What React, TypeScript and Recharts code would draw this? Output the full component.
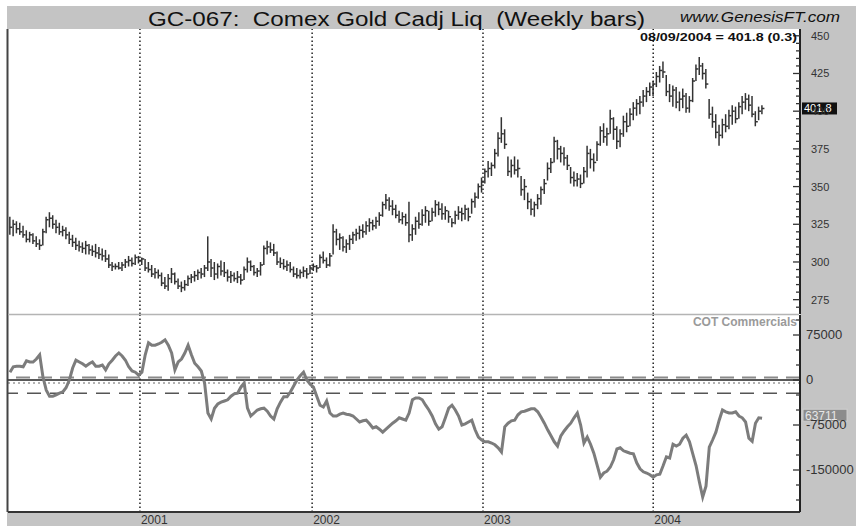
import { Bar, ComposedChart, Line, ReferenceLine, XAxis, YAxis } from 'recharts'

// weekly bars, Mar 2000 .. 08/09/2004
const highs = [
  330, 328, 327, 326, 324, 321, 320, 319, 317, 315,
  322, 330, 333, 331, 328, 326, 324, 323, 320, 318,
  316, 314, 313, 314, 312, 311, 312, 310, 309, 308,
  305, 300, 299, 300, 300, 302, 304, 303, 305, 304,
  303, 302, 300, 298, 296, 295, 293, 290, 292, 296,
  293, 289, 287, 288, 291, 292, 294, 295, 296, 298,
  317, 302, 300, 299, 301, 300, 295, 294, 293, 294,
  292, 297, 303, 301, 298, 296, 300, 311, 314, 313,
  312, 307, 303, 302, 301, 300, 297, 296, 295, 297,
  296, 298, 299, 298, 305, 307, 303, 306, 325, 322,
  319, 317, 315, 318, 320, 322, 324, 325, 327, 329,
  328, 330, 333, 340, 345, 343, 341, 338, 334, 333,
  332, 340, 325, 330, 333, 335, 337, 334, 336, 341,
  340, 339, 337, 334, 329, 334, 337, 336, 338, 336,
  342, 346, 352, 356, 362, 367, 366, 375, 386, 396,
  388, 370, 368, 370, 368, 357, 355, 346, 342, 340,
  345, 350, 355, 366, 369, 383, 381, 377, 376, 371,
  363, 360, 359, 358, 363, 377, 375, 372, 380, 390,
  392, 389, 401, 396, 390, 388, 397, 399, 402, 406,
  408, 410, 414, 416, 419, 420, 426, 430, 433, 424,
  418, 417, 416, 413, 415, 412, 410, 422, 431, 436,
  432, 428, 408, 403, 398, 391, 395, 398, 401, 404,
  403, 406, 410, 412, 411, 410, 400, 403, 404,
]

const lows = [
  318, 317, 319, 318, 316, 313, 313, 312, 310, 308,
  311, 319, 323, 322, 319, 318, 317, 315, 312, 310,
  308, 307, 306, 305, 305, 304, 303, 302, 301, 300,
  296, 294, 295, 295, 294, 296, 297, 297, 298, 299,
  298, 294, 293, 290, 289, 289, 284, 282, 281, 286,
  285, 282, 280, 281, 284, 286, 287, 288, 289, 290,
  294, 290, 288, 289, 291, 290, 287, 286, 287, 286,
  285, 288, 293, 294, 291, 290, 291, 298, 305, 306,
  304, 298, 296, 295, 294, 293, 290, 289, 289, 290,
  289, 292, 294, 293, 296, 299, 296, 297, 305, 311,
  308, 307, 306, 308, 312, 314, 315, 316, 318, 320,
  321, 322, 324, 330, 335, 334, 331, 329, 326, 325,
  324, 313, 314, 318, 322, 324, 326, 324, 327, 330,
  331, 328, 328, 326, 323, 325, 328, 327, 328, 327,
  332, 336, 342, 346, 352, 356, 357, 362, 370, 379,
  375, 357, 356, 358, 356, 344, 341, 335, 331, 330,
  335, 338, 345, 354, 359, 366, 368, 366, 364, 361,
  352, 350, 350, 349, 352, 356, 362, 360, 367, 377,
  379, 377, 385, 381, 375, 376, 383, 386, 390, 394,
  397, 398, 403, 406, 410, 410, 416, 419, 422, 410,
  406, 403, 402, 400, 402, 399, 399, 406, 420, 424,
  421, 415, 395, 389, 382, 377, 382, 386, 388, 391,
  392, 395, 398, 401, 400, 396, 390, 394, 398,
]

const closes = [
  323, 325, 322, 320, 318, 315, 318, 314, 312, 311,
  320, 328, 329, 325, 323, 320, 321, 318, 315, 313,
  311, 310, 309, 311, 308, 307, 306, 305, 304, 302,
  298, 297, 297, 296, 298, 300, 301, 299, 303, 301,
  302, 296, 295, 292, 293, 291, 286, 284, 289, 292,
  287, 284, 283, 285, 289, 290, 291, 293, 292, 296,
  300, 296, 292, 297, 294, 293, 290, 291, 289, 290,
  288, 295, 300, 297, 293, 294, 298, 309, 310, 308,
  306, 300, 299, 297, 298, 295, 292, 291, 293, 294,
  292, 296, 297, 296, 303, 301, 298, 304, 320, 315,
  316, 310, 312, 315, 318, 319, 321, 320, 324, 326,
  324, 327, 331, 338, 341, 337, 335, 331, 328, 330,
  326, 318, 322, 327, 325, 331, 334, 327, 333, 338,
  335, 332, 334, 330, 326, 331, 333, 332, 335, 330,
  340, 343, 350, 353, 360, 362, 364, 372, 382, 385,
  378, 360, 364, 361, 362, 348, 350, 340, 335, 338,
  342, 348, 352, 362, 366, 380, 375, 372, 369, 364,
  356, 354, 355, 352, 360, 372, 368, 366, 378, 387,
  383, 385, 395, 388, 380, 385, 393, 390, 398, 402,
  405, 406, 410, 413, 416, 418, 423, 427, 426, 413,
  410, 414, 406, 408, 410, 402, 407, 420, 428, 430,
  425, 418, 398, 393, 386, 384, 391, 390, 397, 400,
  395, 403, 406, 408, 404, 398, 393, 400, 401.8,
]

const cotCommercials = [
  13000, 22000, 23000, 23000, 22000, 32000, 30000, 30000, 35000, 42000,
  5000, -17000, -27000, -27000, -25000, -22000, -20000, -13000, 0, 20000,
  33000, 30000, 27000, 23000, 27000, 30000, 23000, 23000, 25000, 17000,
  27000, 33000, 40000, 45000, 40000, 33000, 22000, 15000, 13000, 8000,
  13000, 42000, 62000, 58000, 58000, 60000, 63000, 67000, 58000, 45000,
  17000, 30000, 35000, 45000, 58000, 42000, 28000, 22000, 15000, -5000,
  -55000, -65000, -47000, -40000, -37000, -35000, -33000, -27000, -23000, -22000,
  -12000, -5000, -47000, -60000, -55000, -50000, -48000, -47000, -52000, -60000,
  -65000, -48000, -37000, -28000, -28000, -20000, -10000, 0, 7000, 13000,
  0, -7000, -12000, -27000, -42000, -45000, -35000, -55000, -60000, -60000,
  -57000, -55000, -57000, -58000, -60000, -65000, -70000, -68000, -67000, -73000,
  -80000, -78000, -82000, -87000, -82000, -77000, -72000, -68000, -63000, -65000,
  -67000, -55000, -33000, -30000, -30000, -33000, -42000, -50000, -60000, -73000,
  -82000, -78000, -63000, -47000, -42000, -50000, -60000, -75000, -73000, -70000,
  -67000, -83000, -95000, -100000, -103000, -103000, -105000, -108000, -113000, -120000,
  -78000, -72000, -68000, -67000, -58000, -53000, -52000, -50000, -48000, -48000,
  -53000, -62000, -72000, -83000, -93000, -103000, -110000, -93000, -85000, -78000,
  -72000, -63000, -55000, -75000, -105000, -95000, -107000, -122000, -142000, -162000,
  -155000, -152000, -145000, -133000, -115000, -113000, -118000, -120000, -122000, -123000,
  -138000, -148000, -153000, -155000, -158000, -162000, -158000, -157000, -143000, -128000,
  -130000, -107000, -110000, -107000, -97000, -92000, -103000, -123000, -143000, -170000,
  -195000, -177000, -112000, -100000, -87000, -67000, -50000, -53000, -55000, -55000,
  -53000, -60000, -63000, -70000, -97000, -102000, -72000, -63000, -63711,
]

// year boundaries, in weeks from the first bar
const yearLabels = ['2001', '2002', '2003', '2004']
const yearWeeks = [39.4, 91.6, 143.4, 195.0]

const priceLabels = [275, 300, 325, 350, 375, 400, 425, 450]
const cotLabels = [75000, 0, -75000, -150000]
// horizontal levels drawn across the COT pane
const cotLevels = [
  { value: 4000, stroke: '#8a8a8a', dash: '14 8', width: 2 },
  { value: 0, stroke: '#222', dash: undefined, width: 1.5 },
  { value: -5000, stroke: '#9a9a9a', dash: '2 3', width: 1.5 },
  { value: -22000, stroke: '#555', dash: '14 9', width: 1.5 },
]

const lastPrice = 401.8
const lastCot = -63711

const bars = closes.map((close, i) => ({
  week: i,
  high: highs[i],
  low: lows[i],
  close,
  cot: cotCommercials[i],
}))

const X_DOMAIN = [-0.6, 239.5]
const PRICE_DOMAIN = [265.5, 454.5]
const COT_DOMAIN = [-220000, 108333]
const FONT = "'Liberation Sans', Arial, Helvetica, sans-serif"

const priceTicks: number[] = []
for (let v = 270; v <= 450; v += 5) priceTicks.push(v)
const cotTicks: number[] = []
for (let v = -200000; v <= 100000; v += 25000) cotTicks.push(v)

function OhlcBar(props: any) {
  const { x, y, width, height, payload } = props
  if (x == null || !payload) return null
  const top = Math.min(y, y + height)
  const h = Math.abs(height)
  const cx = x + width / 2
  const span = payload.high - payload.low || 1
  const cy = top + (h * (payload.high - payload.close)) / span
  return (
    <g>
      <line x1={cx} x2={cx} y1={top} y2={top + h} stroke="#333" strokeWidth={1.5} />
      <line x1={cx} x2={cx + 2.5} y1={cy} y2={cy} stroke="#333" strokeWidth={1.5} />
    </g>
  )
}

function PriceTick({ x, y, payload }: any) {
  const major = priceLabels.includes(payload.value)
  return (
    <g>
      <line x1={x - (major ? 7 : 4)} x2={x} y1={y} y2={y} stroke="#333" strokeWidth={1.3} />
      {major && (
        <text x={x + 11} y={y + 4} fontSize={11} fill="#333" fontFamily={FONT}>{payload.value}</text>
      )}
    </g>
  )
}

function CotTick({ x, y, payload }: any) {
  const major = cotLabels.includes(payload.value)
  return (
    <g>
      <line x1={x - (major ? 7 : 4)} x2={x} y1={y} y2={y} stroke="#333" strokeWidth={1.3} />
      {major && (
        <text x={x + 6} y={y + 4.5} fontSize={13} fill="#333" fontFamily={FONT}>{payload.value}</text>
      )}
    </g>
  )
}

function YearTick({ x, y, payload }: any) {
  const label = yearLabels[yearWeeks.indexOf(payload.value)]
  return (
    <text x={x + 1} y={y + 12} fontSize={12} fill="#333" fontFamily={FONT}>{label}</text>
  )
}

function PriceFlag({ viewBox }: any) {
  if (!viewBox) return null
  const x = viewBox.x + viewBox.width + 2
  const y = viewBox.y
  return (
    <g>
      <rect x={x} y={y - 6} width={35} height={12} fill="#111" />
      <text x={x + 2} y={y + 4} fontSize={11} fill="#fff" fontFamily={FONT}>{lastPrice}</text>
    </g>
  )
}

function CotFlag({ viewBox }: any) {
  if (!viewBox) return null
  const x = viewBox.x + viewBox.width + 3
  const y = viewBox.y - 3
  return (
    <g>
      <rect x={x} y={y - 6} width={44} height={12} fill="#8c8c8c" stroke="#cfcfcf" strokeWidth={1} />
      <text x={x + 2} y={y + 4.5} fontSize={12} fill="#e6e6e6" fontFamily={FONT}>{String(-lastCot)}</text>
    </g>
  )
}

export default function App() {
  return (
    <div style={{ position: 'absolute', left: 0, top: 0, width: 856, height: 526, background: '#fff', fontFamily: FONT, overflow: 'hidden' }}>
      <div style={{ position: 'absolute', left: 7, top: 6, width: 849, height: 520, background: '#c4c4c4' }} />
      <div style={{ position: 'absolute', left: 8, top: 29, width: 792, height: 483, background: '#fff' }} />

      <div style={{ position: 'absolute', left: 0, top: 0 }}>
        <ComposedChart width={856} height={314} data={bars} margin={{ top: 29, right: 0, bottom: 0, left: 8 }}>
          <XAxis dataKey="week" type="number" domain={X_DOMAIN} allowDataOverflow hide />
          <YAxis
            orientation="right"
            width={56}
            domain={PRICE_DOMAIN}
            allowDataOverflow
            ticks={priceTicks}
            interval={0}
            tick={PriceTick}
            tickLine={false}
            tickSize={0}
            tickMargin={0}
            axisLine={{ stroke: '#222', strokeWidth: 2 }}
          />
          {yearWeeks.map(w => (
            <ReferenceLine key={w} x={w} stroke="#222" strokeDasharray="1.5 2.5" strokeWidth={1.5} />
          ))}
          <Bar dataKey={(d: any) => [d.low, d.high]} barSize={3} shape={OhlcBar} isAnimationActive={false} />
          <ReferenceLine y={lastPrice} stroke="none" label={PriceFlag} />
        </ComposedChart>
      </div>

      <div style={{ position: 'absolute', left: 0, top: 314 }}>
        <ComposedChart width={856} height={212} data={bars} margin={{ top: 1, right: 0, bottom: 0, left: 8 }}>
          <XAxis
            dataKey="week"
            type="number"
            domain={X_DOMAIN}
            allowDataOverflow
            ticks={yearWeeks}
            interval={0}
            tick={YearTick}
            tickLine={false}
            tickSize={0}
            tickMargin={0}
            height={14}
            axisLine={{ stroke: '#333', strokeWidth: 2 }}
          />
          <YAxis
            orientation="right"
            width={56}
            domain={COT_DOMAIN}
            allowDataOverflow
            ticks={cotTicks}
            interval={0}
            tick={CotTick}
            tickLine={false}
            tickSize={0}
            tickMargin={0}
            axisLine={{ stroke: '#222', strokeWidth: 2 }}
          />
          {yearWeeks.map(w => (
            <ReferenceLine key={w} x={w} stroke="#222" strokeDasharray="1.5 2.5" strokeWidth={1.5} />
          ))}
          {cotLevels.map(l => (
            <ReferenceLine key={l.value} y={l.value} stroke={l.stroke} strokeDasharray={l.dash} strokeWidth={l.width} />
          ))}
          <Line type="linear" dataKey="cot" stroke="#7c7c7c" strokeWidth={3} dot={false} isAnimationActive={false} />
          <ReferenceLine y={lastCot} stroke="none" label={CotFlag} />
        </ComposedChart>
      </div>

      <svg width={856} height={526} style={{ position: 'absolute', left: 0, top: 0, pointerEvents: 'none' }}>
        <text x={148} y={26} fontSize={20} fill="#111" textLength={497} lengthAdjust="spacingAndGlyphs" xmlSpace="preserve">
          {'GC-067:  Comex Gold Cadj Liq  (Weekly bars)'}
        </text>
        <text x={680} y={22} fontSize={15} fontStyle="italic" fill="#111" textLength={160} lengthAdjust="spacingAndGlyphs">
          www.GenesisFT.com
        </text>
        <text x={797} y={41} fontSize={11} fontWeight="bold" fill="#111" textAnchor="end" textLength={157} lengthAdjust="spacingAndGlyphs">
          08/09/2004 = 401.8 (0.3)
        </text>
        <text x={797} y={326} fontSize={12} fontWeight="bold" fill="#9a9a9a" textAnchor="end">
          COT Commercials
        </text>
        <line x1={7.5} x2={7.5} y1={29} y2={512} stroke="#444" strokeWidth={2} />
        <line x1={8} x2={799} y1={314.5} y2={314.5} stroke="#b4b4b4" strokeWidth={1.5} />
      </svg>
    </div>
  )
}
